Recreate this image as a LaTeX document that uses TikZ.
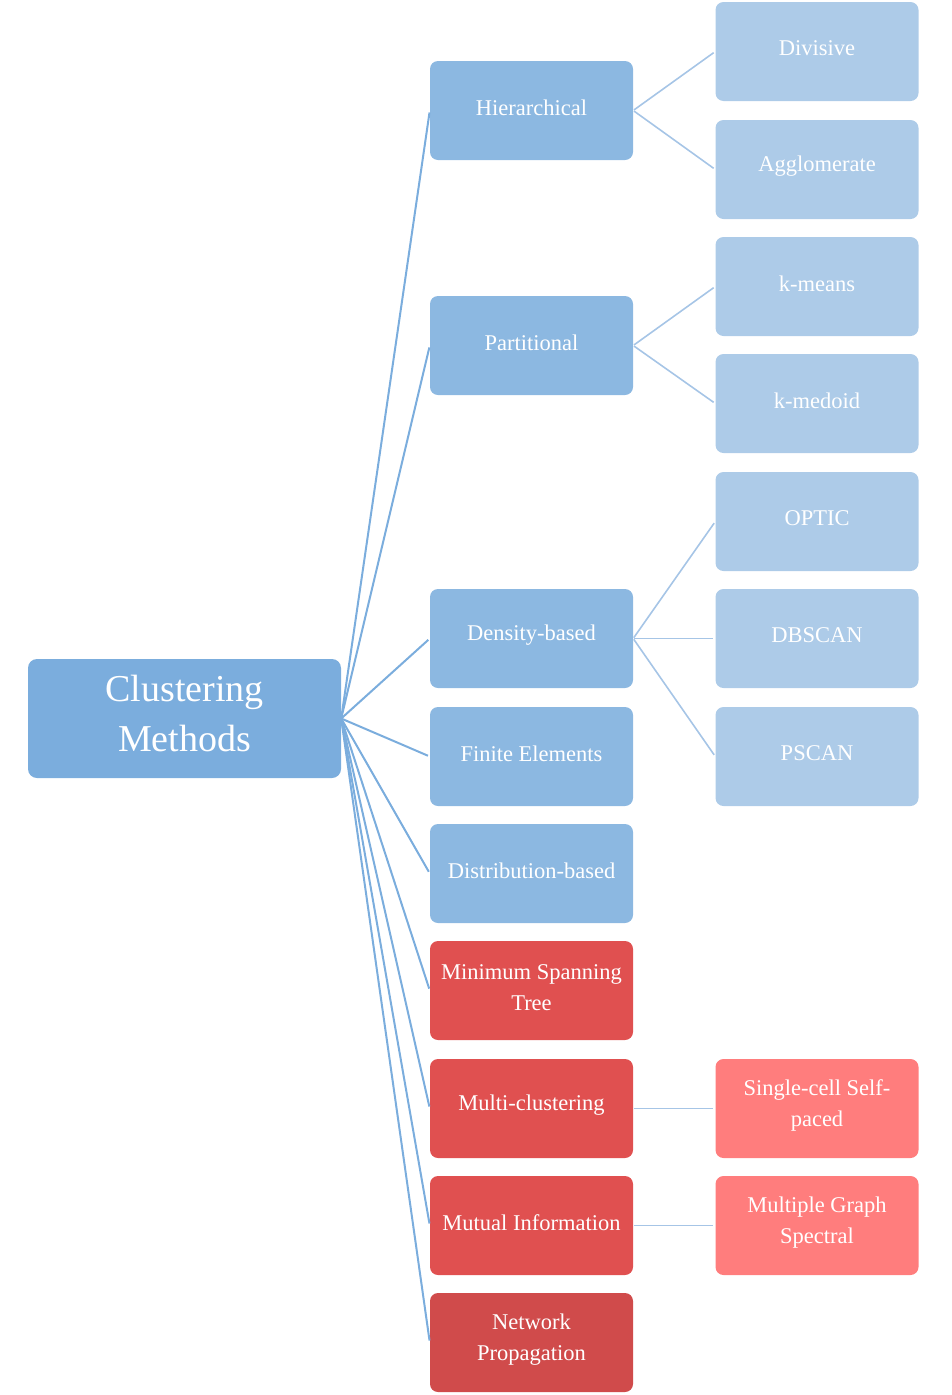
\documentclass[tikz,border=0pt]{standalone}
\usepackage{fontspec}
\setmainfont{Liberation Serif}
\definecolor{rootblue}{HTML}{7BADDD}
\definecolor{midblue}{HTML}{8CB8E1}
\definecolor{lightblue}{HTML}{ADCBE8}
\definecolor{redbox}{HTML}{E05050}
\definecolor{darkred}{HTML}{D04B4B}
\definecolor{pinkbox}{HTML}{FF7D7D}
\definecolor{rootline}{HTML}{7BADDD}
\definecolor{childline}{HTML}{A6C5E6}
\tikzset{
  box/.style={rectangle, rounded corners=8pt, inner sep=0pt, minimum width=203pt, minimum height=99pt},
  lbl/.style={text=white, align=center, inner sep=0pt, font=\fontsize{22.5}{31}\selectfont},
  midb/.style={box, fill=midblue},
  rightb/.style={box, fill=lightblue},
  redb/.style={box, fill=redbox},
  dredb/.style={box, fill=darkred},
  pinkb/.style={box, fill=pinkbox},
  rootb/.style={rectangle, rounded corners=9pt, inner sep=0pt, minimum width=313pt, minimum height=119pt, fill=rootblue},
  rootlbl/.style={text=white, align=center, inner sep=0pt, font=\fontsize{38}{50}\selectfont},
  rootcon/.style={draw=rootline, line width=2pt, shorten >=2pt},
  childcon/.style={draw=childline, line width=1.6pt, shorten <=1pt, shorten >=2pt},
}
\newcommand{\bx}[4]{\node[#1] (#2) at (#3) {}; \node[lbl] (#2-t) at ([yshift=3pt]#2.center) {#4};}
\begin{document}
\begin{tikzpicture}[x=1pt,y=-1pt]
\useasboundingbox (0,0) rectangle (952,1395);
\node[rootb] (root) at (184.5,718.5) {};
\node[rootlbl] (root-t) at ([yshift=5pt]root.center) {Clustering\\Methods};
% middle column
\bx{midb}{hier}{531.5,110.5}{Hierarchical}
\bx{midb}{part}{531.5,345.5}{Partitional}
\bx{midb}{dens}{531.5,638.5}{Density-based}
\bx{midb}{fin}{531.5,756.5}{Finite Elements}
\bx{midb}{dist}{531.5,873.5}{Distribution-based}
\bx{redb}{mst}{531.5,990.5}{Minimum Spanning\\Tree}
\bx{redb}{multi}{531.5,1108.5}{Multi-clustering}
\bx{redb}{mutual}{531.5,1225.5}{Mutual Information}
\bx{dredb}{net}{531.5,1342.5}{Network\\Propagation}
% right column
\bx{rightb}{div}{817,51.5}{Divisive}
\bx{rightb}{agg}{817,169.5}{Agglomerate}
\bx{rightb}{km}{817,286.5}{k-means}
\bx{rightb}{kmed}{817,403.5}{k-medoid}
\bx{rightb}{opt}{817,521.5}{OPTIC}
\bx{rightb}{dbs}{817,638.5}{DBSCAN}
\bx{rightb}{psc}{817,756.5}{PSCAN}
\bx{pinkb}{single}{817,1108.5}{Single-cell Self-\\paced}
\bx{pinkb}{mgs}{817,1225.5}{Multiple Graph\\Spectral}
% root connectors
\foreach \n in {hier,part,dens,fin,dist,mst,multi,mutual,net}
  \draw[rootcon] (root.east) -- (\n.west);
% child connectors
\draw[childcon] (hier.east) -- (div.west);
\draw[childcon] (hier.east) -- (agg.west);
\draw[childcon] (part.east) -- (km.west);
\draw[childcon] (part.east) -- (kmed.west);
\draw[childcon] (dens.east) -- (opt.west);
\draw[childcon] (dens.east) -- (dbs.west);
\draw[childcon] (dens.east) -- (psc.west);
\draw[childcon] (multi.east) -- (single.west);
\draw[childcon] (mutual.east) -- (mgs.west);
\end{tikzpicture}
\end{document}
